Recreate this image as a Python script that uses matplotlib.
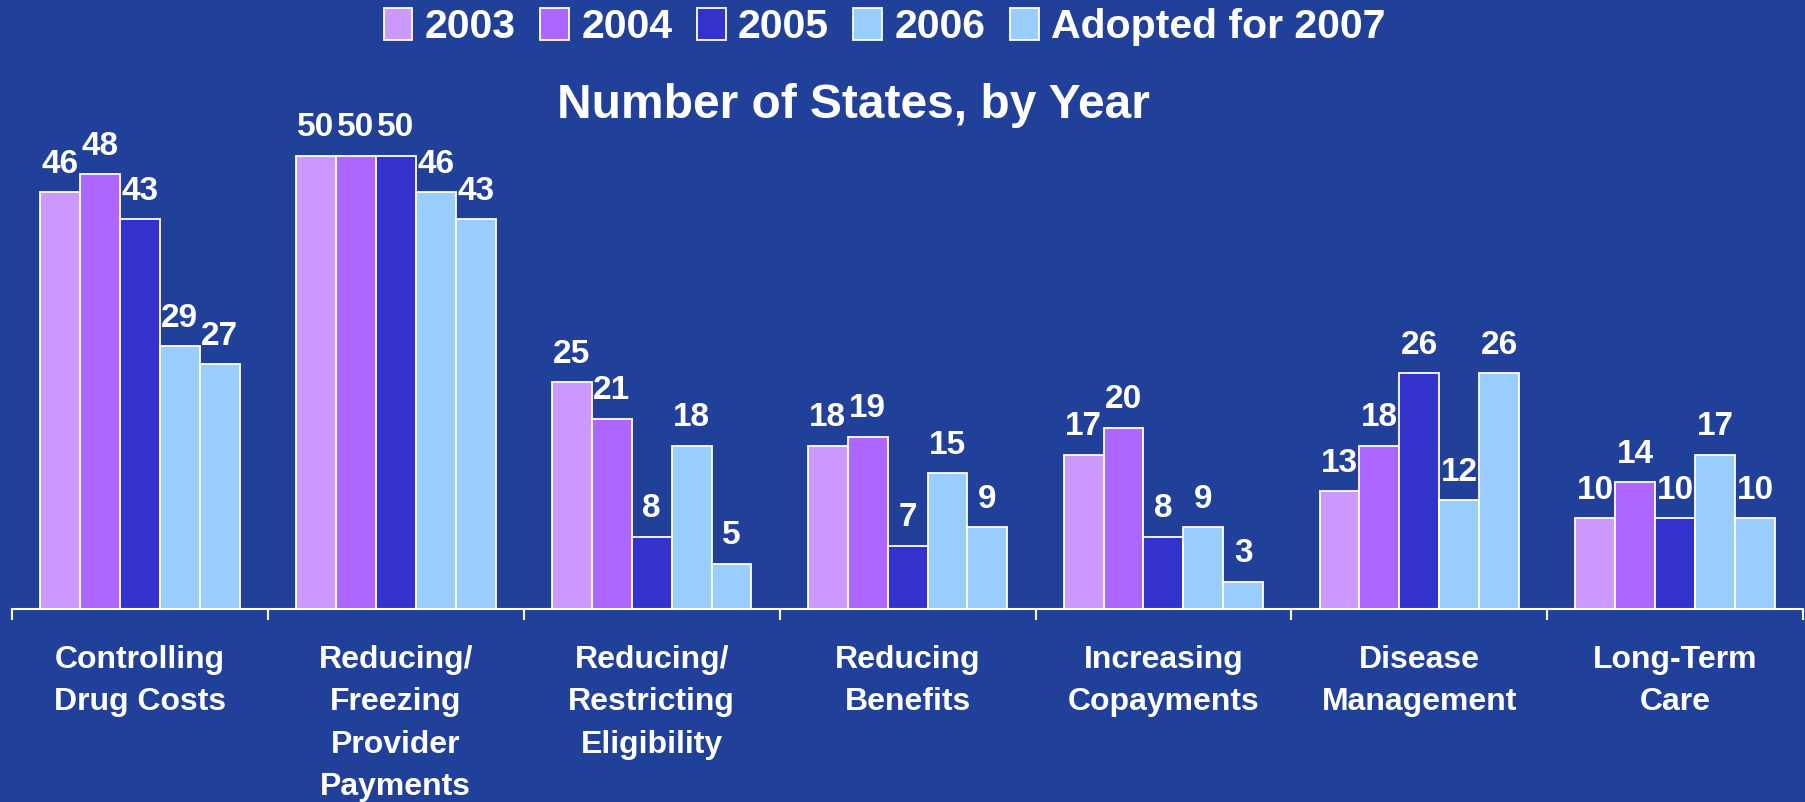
import matplotlib.pyplot as plt
import numpy as np
from matplotlib.patches import Patch

plt.rcParams['font.family'] = ['Liberation Sans', 'DejaVu Sans']
plt.rcParams['font.weight'] = 'bold'

categories = ['Controlling\nDrug Costs', 'Reducing/\nFreezing\nProvider\nPayments',
              'Reducing/\nRestricting\nEligibility', 'Reducing\nBenefits',
              'Increasing\nCopayments', 'Disease\nManagement', 'Long-Term\nCare']
series = ['2003', '2004', '2005', '2006', 'Adopted for 2007']
v2003 = [46, 50, 25, 18, 17, 13, 10]
v2004 = [48, 50, 21, 19, 20, 18, 14]
v2005 = [43, 50, 8, 7, 8, 26, 10]
v2006 = [29, 46, 18, 15, 9, 12, 17]
v2007 = [27, 43, 5, 9, 3, 26, 10]
colors = ['#CC99FF', '#AD66FF', '#3333CC', '#99CCFF', '#99CCFF']
bg = '#21409A'

fig = plt.figure(figsize=(18.05, 8.02), dpi=100, facecolor=bg)
ax = fig.add_axes([0.0066, 0.2406, 0.9924, 0.678])
ax.set_facecolor(bg)

x = np.arange(len(categories))
w = 0.156
for i, (name, vals) in enumerate(zip(series, [v2003, v2004, v2005, v2006, v2007])):
    pos = x + (i - 2) * w
    ax.bar(pos, vals, width=w, color=colors[i], edgecolor='white', linewidth=1.3, label=name)
    for px, v in zip(pos, vals):
        ax.annotate(str(v), (px, v), xytext=(0, 9), textcoords='offset points',
                    ha='center', va='bottom', color='white', fontsize=24, fontweight='bold')

ax.set_xlim(-0.5, 6.5)
ax.set_ylim(0, 60)
for s in ['top', 'left', 'right']:
    ax.spines[s].set_visible(False)
ax.spines['bottom'].set_color('white')
ax.spines['bottom'].set_linewidth(1.5)
ax.set_yticks([])
ax.set_xticks(np.arange(-0.5, 7, 1))
ax.set_xticklabels([])
ax.tick_params(axis='x', colors='white', length=8, width=1.5, direction='out')

# category names under each group
for xi, lab in zip(x, categories):
    ax.text(xi, -4.0, lab, ha='center', va='top', color='white', fontsize=23,
            fontweight='bold', linespacing=1.53)

fig.text(0.473, 0.868, 'Number of States, by Year', ha='center', va='center',
         color='white', fontsize=34.5, fontweight='bold')

handles = [Patch(facecolor=c, edgecolor='white', linewidth=1.3) for c in colors]
fig.legend(handles, series, loc='center', bbox_to_anchor=(0.49, 0.966), ncol=5,
           frameon=False, labelcolor='white', handlelength=0.7,
           handleheight=0.8, handletextpad=0.3, columnspacing=0.6,
           prop={'weight': 'bold', 'size': 29.5})

fig.savefig('out.png', dpi=100, facecolor=bg)
